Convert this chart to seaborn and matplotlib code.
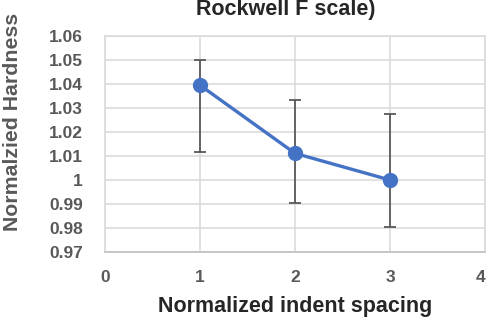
import matplotlib
matplotlib.use("Agg")
import matplotlib.pyplot as plt
import seaborn as sns
import pandas as pd

spacing = [1, 2, 3]
hardness = [1.0395, 1.0111, 1.0000]
err_low = [0.0280, 0.0208, 0.0197]
err_high = [0.0104, 0.0222, 0.0277]
y_ticks = [0.97, 0.98, 0.99, 1.00, 1.01, 1.02, 1.03, 1.04, 1.05, 1.06]
y_labels = ["0.97", "0.98", "0.99", "1", "1.01", "1.02", "1.03", "1.04", "1.05", "1.06"]
x_ticks = [0, 1, 2, 3, 4]

sns.set_style("white")
plt.rcParams["font.family"] = ["Liberation Sans", "DejaVu Sans"]

df = pd.DataFrame({"spacing": spacing, "hardness": hardness})

fig = plt.figure(figsize=(4.87, 3.2), dpi=100)
ax = fig.add_axes([105 / 487, 1 - 252 / 320, 380 / 487, 216 / 320])

ax.errorbar(spacing, hardness, yerr=[err_low, err_high], fmt="none",
            ecolor="#595959", elinewidth=1.3, capsize=4.5, capthick=1.3, zorder=2)
sns.lineplot(data=df, x="spacing", y="hardness", ax=ax, color="#4472C4",
             linewidth=2.4, marker="o", markersize=11, markeredgewidth=0, zorder=3)

ax.set_xlim(0, 4)
ax.set_ylim(0.97, 1.06)
ax.set_xticks(x_ticks)
ax.set_yticks(y_ticks)
ax.set_yticklabels(y_labels)
ax.grid(True, color="#d9d9d9", linewidth=1.1)
ax.set_axisbelow(True)
for s in ["top", "right", "left"]:
    ax.spines[s].set_color("#d9d9d9")
    ax.spines[s].set_linewidth(1.1)
ax.spines["bottom"].set_color("#bfbfbf")
ax.spines["bottom"].set_linewidth(1.2)
ax.tick_params(length=0, labelsize=12.5, labelcolor="#595959")
ax.tick_params(axis="y", pad=16)
ax.tick_params(axis="x", pad=13)
for lbl in ax.get_xticklabels() + ax.get_yticklabels():
    lbl.set_fontweight("bold")
    if lbl.get_text() == "4":
        lbl.set_horizontalalignment("right")

ax.set_xlabel("Normalized indent spacing", fontsize=15.5, fontweight="bold",
              color="#262626", labelpad=8)
ax.set_ylabel("Normalzied Hardness", fontsize=15.3, fontweight="bold",
              color="#595959")
ax.yaxis.set_label_coords(-0.218, 0.60)

fig.text(286 / 487, 1 - 10 / 320, "Rockwell F scale)", ha="center", va="center",
         fontsize=15.5, fontweight="bold", color="#262626")

fig.savefig("out.png", dpi=100)
